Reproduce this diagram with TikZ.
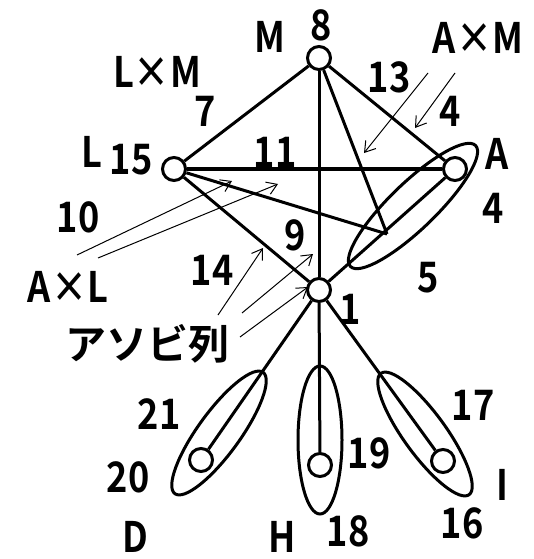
\documentclass[tikz,border=0pt]{standalone}
\usepackage{fontspec}
\newfontfamily\gfont{Noto Sans CJK JP Bold}[FakeStretch=0.86]
\newfontfamily\jfont{Noto Sans CJK JP Bold}
\usetikzlibrary{arrows.meta, shapes.geometric}

\begin{document}
\begin{tikzpicture}[x=1pt, y=-1pt,
  vtx/.style={circle, draw, fill=white, line width=3pt, minimum size=23pt, inner sep=0pt},
  edge/.style={line width=3pt},
  grp/.style={ellipse, draw, line width=3pt, inner sep=0pt},
  pointer/.style={line width=1pt, -{Straight Barb[length=10pt,width=13pt]}},
  lab/.style={font=\gfont\fontsize{42}{42}\selectfont, inner sep=0pt}
]
\useasboundingbox (0,0) rectangle (533,559);

% Vertices
\node[vtx] (m) at (319,58)  {};
\node[vtx] (l) at (174,169) {};
\node[vtx] (a) at (455,169) {};
\node[vtx] (c) at (319,290) {};
\node[vtx] (d) at (201,460) {};
\node[vtx] (h) at (320,465) {};
\node[vtx] (i) at (443,461) {};
\coordinate (p) at (387,234);

% Edges
\draw[edge] (m) -- (l);
\draw[edge] (m) -- (a);
\draw[edge, line width=4pt] (l) -- (a);
\draw[edge] (m) -- (c);
\draw[edge] (l) -- (c);
\draw[edge] (c) -- (a);
\draw[edge] (l) -- (p);
\draw[edge] (m) -- (p);
\draw[edge] (c) -- (d);
\draw[edge] (c) -- (h);
\draw[edge] (c) -- (i);

% Groups
\node[grp, minimum width=174pt, minimum height=46pt, rotate=44]  (ga) at (413,206) {};
\node[grp, minimum width=150pt, minimum height=42pt, rotate=54]  (gd) at (219,433) {};
\node[grp, minimum width=148pt, minimum height=44pt, rotate=90]  (gh) at (320,440) {};
\node[grp, minimum width=150pt, minimum height=42pt, rotate=-54] (gi) at (425,434) {};

% Labels
\node[lab] (tm)  at (270,37)  {M};
\node[lab] (t8)  at (321,25)  {8};
\node[lab] (tlm) at (157,72)  {L×M};
\node[lab] (t7)  at (205,111) {7};
\node[lab] (tam) at (478,38)  {A×M};
\node[lab] (t13) at (389,77)  {13};
\node[lab] (t4a) at (450,111) {4};
\node[lab] (ta)  at (497,154) {A};
\node[lab] (t4b) at (493,208) {4};
\node[lab] (tl)  at (92,152)  {L};
\node[lab] (t15) at (131,160) {15};
\node[lab] (t11) at (275,152) {11};
\node[lab] (t10) at (78,217)  {10};
\node[lab] (t9)  at (295,235) {9};
\node[lab] (t14) at (212,270) {14};
\node[lab] (t5)  at (428,278) {5};
\node[lab] (tal) at (68,287)  {A×L};
\node[lab] (t1)  at (350,309) {1};
\node[lab, font=\jfont\fontsize{41}{41}\selectfont] (tas) at (147,344) {アソビ列};
\node[lab] (t21) at (159,414) {21};
\node[lab] (t20) at (128,477) {20};
\node[lab] (t19) at (369,453) {19};
\node[lab] (t17) at (473,405) {17};
\node[lab] (ti)  at (502,485) {I};
\node[lab] (t16) at (462,523) {16};
\node[lab] (t18) at (348,531) {18};
\node[lab] (th)  at (282,537) {H};
\node[lab] (td)  at (135,537) {D};

% Pointers
\coordinate (am1) at (428,73);  \coordinate (am1e) at (364,153);
\coordinate (am2) at (455,73);  \coordinate (am2e) at (415,128);
\coordinate (al1) at (77,255);  \coordinate (al1e) at (232,181);
\coordinate (al2) at (98,258);  \coordinate (al2e) at (278,184);
\coordinate (as1) at (218,315); \coordinate (as1e) at (263,248);
\coordinate (as2) at (242,313); \coordinate (as2e) at (313,254);
\coordinate (as3) at (240,337); \coordinate (as3e) at (308,287);
\draw[pointer] (am1) -- (am1e);
\draw[pointer] (am2) -- (am2e);
\draw[pointer] (al1) -- (al1e);
\draw[pointer] (al2) -- (al2e);
\draw[pointer] (as1) -- (as1e);
\draw[pointer] (as2) -- (as2e);
\draw[pointer] (as3) -- (as3e);
\end{tikzpicture}
\end{document}
